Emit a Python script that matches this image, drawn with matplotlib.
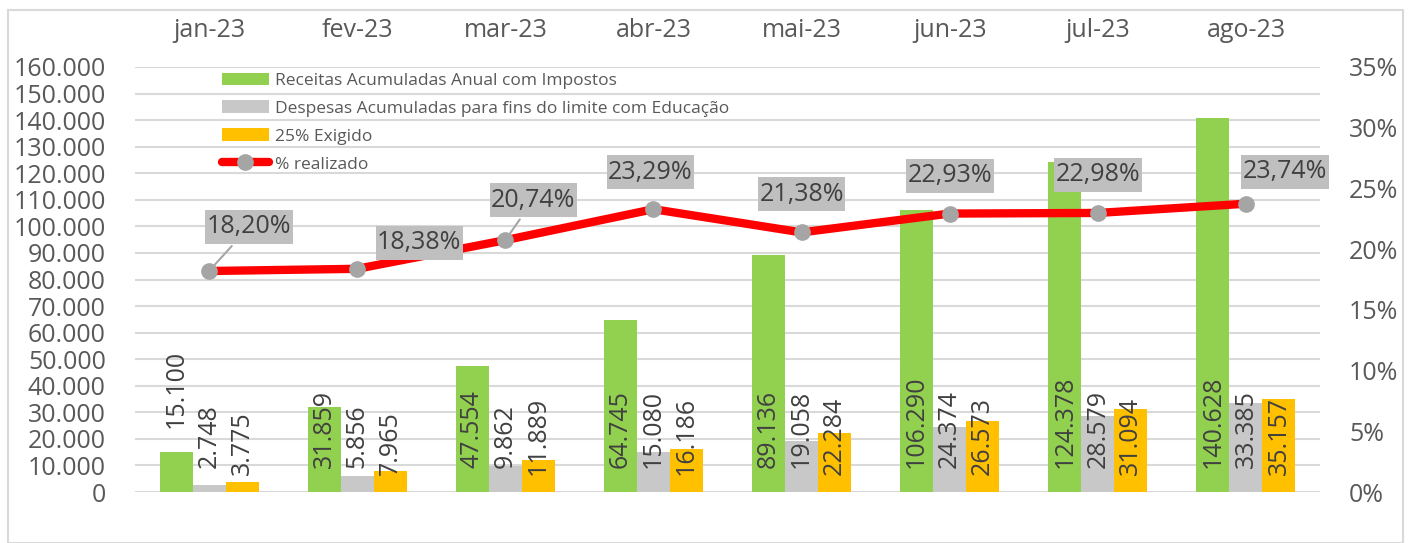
import matplotlib.pyplot as plt
import numpy as np
from matplotlib.patches import Rectangle
from matplotlib.lines import Line2D
from matplotlib.path import Path
from matplotlib.ticker import FuncFormatter, MultipleLocator

plt.rcParams['font.family'] = ['Open Sans', 'DejaVu Sans']

# data
months = ['jan-23', 'fev-23', 'mar-23', 'abr-23', 'mai-23', 'jun-23', 'jul-23', 'ago-23']
receitas = [15100, 31859, 47554, 64745, 89136, 106290, 124378, 140628]
despesas = [2748, 5856, 9862, 15080, 19058, 24374, 28579, 33385]
exigido = [3775, 7965, 11889, 16186, 22284, 26573, 31094, 35157]
realizado = [18.20, 18.38, 20.74, 23.29, 21.38, 22.93, 22.98, 23.74]

series_names = ['Receitas Acumuladas Anual com Impostos',
                'Despesas Acumuladas para fins do limite com Educação',
                '25% Exigido']
line_name = '% realizado'

# layout of the percent labels (pixel offsets from each point)
label_dx = [40, 62, 28, -3, 0, 0, 0, 39]
label_dy = [44, 26, 40, 37, 38, 38, 38, 32]
leaders = [0, 2]

green = '#92D050'
grey = '#C8C8C8'
gold = '#FFC000'
txt = '#404040'
tick_col = '#595959'
grid_col = '#D9D9D9'


def thousands(v, pos=None):
    return f'{int(round(v)):,}'.replace(',', '.')


def label_box(x0, y0, width, height, mutation_size):
    # tight left/right, taller top/bottom, like the excel label boxes
    px, py = 1.5, 4.5
    x0, x1 = x0 - px, x0 + width + px
    y0, y1 = y0 - py, y0 + height + py
    return Path([(x0, y0), (x1, y0), (x1, y1), (x0, y1), (x0, y0)], closed=True)


fig = plt.figure(figsize=(14.13, 5.43), dpi=100)
fig.patches.append(Rectangle((8 / 1413, 0), 1395 / 1413, 533 / 543,
                             transform=fig.transFigure, fill=False,
                             edgecolor=grid_col, linewidth=1.5))
ax = fig.add_axes([135 / 1413, 51 / 543, 1185 / 1413, 425 / 543])
ax2 = ax.twinx()

x = np.arange(len(months))
w = 0.223
bars = []
for off, vals, col in zip([-w, 0, w], [receitas, despesas, exigido],
                          [green, grey, gold]):
    bars.append(ax.bar(x + off, vals, width=w, color=col, zorder=2))

# value labels, rotated
for k, (off, vals) in enumerate(zip([-w, 0, w], [receitas, despesas, exigido])):
    for i, v in enumerate(vals):
        base = 6400 if k == 2 else 9000
        if k == 0 and i == 0:
            base = 24100
        ax.text(x[i] + off, base, thousands(v), rotation=90, ha='center',
                va='bottom', fontsize=18, color=txt, zorder=3)

ax.set_xlim(-0.5, len(months) - 0.5)
ax.set_ylim(0, 160000)
ax.yaxis.set_major_locator(MultipleLocator(10000))
ax.yaxis.set_major_formatter(FuncFormatter(thousands))
ax.grid(axis='y', color=grid_col, linewidth=1.5, zorder=0)
ax.set_axisbelow(True)
ax.xaxis.tick_top()
ax.set_xticks(x)
ax.set_xticklabels(months)
ax.tick_params(axis='x', length=0, pad=17, labelsize=18, labelcolor=tick_col)
ax.tick_params(axis='y', length=0, pad=21, labelsize=18, labelcolor=tick_col)
for s in ax.spines.values():
    s.set_visible(False)

ax2.plot(x, realizado, color='#FF0000', linewidth=6, marker='o',
         markersize=11, markerfacecolor='#A5A5A5', markeredgecolor='#A5A5A5',
         solid_capstyle='round', zorder=4)
ax2.set_ylim(0, 35)
ax2.yaxis.set_major_locator(MultipleLocator(5))
ax2.yaxis.set_major_formatter(FuncFormatter(lambda v, p: f'{v:.0f}%'))
ax2.tick_params(axis='y', length=0, pad=21, labelsize=18, labelcolor=tick_col)
for s in ax2.spines.values():
    s.set_visible(False)

for i, p in enumerate(realizado):
    arrow = None
    if i in leaders:
        arrow = dict(arrowstyle='-', color='#A6A6A6', lw=1.5, shrinkB=6)
    ax2.annotate(f'{p:.2f}'.replace('.', ',') + '%', (x[i], p),
                 xytext=(label_dx[i], label_dy[i]), textcoords='offset pixels',
                 ha='center', va='center', fontsize=18, color=txt,
                 bbox=dict(boxstyle=label_box, fc='#BFBFBF', ec='none'),
                 arrowprops=arrow, zorder=5)

handles = [b.patches[0] for b in bars]
handles.append(Line2D([], [], color='#FF0000', linewidth=6, marker='o',
                      markersize=11, markerfacecolor='#A5A5A5',
                      markeredgecolor='#A5A5A5', solid_capstyle='round'))
leg = ax2.legend(handles, series_names + [line_name], loc='upper left',
                 bbox_to_anchor=(0.0734, 0.987), frameon=False, fontsize=12.5,
                 handlelength=2.7, handleheight=0.7, handletextpad=0.35,
                 labelspacing=0.68, borderpad=0, borderaxespad=0)
for t in leg.get_texts():
    t.set_color(tick_col)

fig.savefig('out.png', dpi=100)
